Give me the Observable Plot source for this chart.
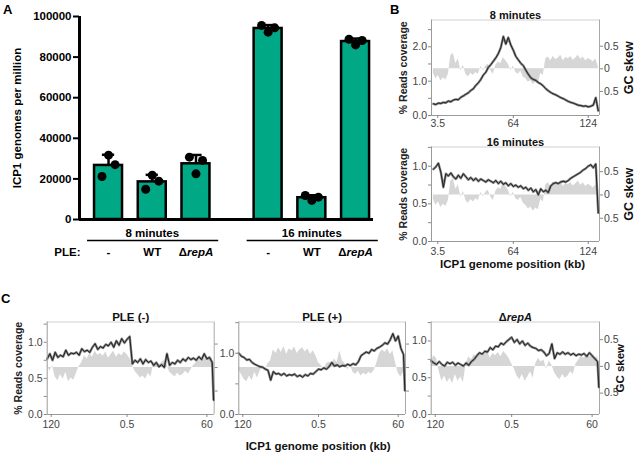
<!DOCTYPE html>
<html><head><meta charset="utf-8">
<script src="https://cdn.jsdelivr.net/npm/d3@7"></script>
<script src="https://cdn.jsdelivr.net/npm/@observablehq/plot@0.6"></script>
<style>
body{margin:0;background:#fff;}
#fig{position:relative;width:642px;height:458px;overflow:hidden;background:#fff;font-family:"Liberation Sans",Arial,Helvetica,sans-serif;}
.letter{position:absolute;font-weight:bold;font-size:13px;color:#000;line-height:1;}
</style></head><body><div id="fig"></div>
<script>
// ---------- Panel A data ----------
const groups = ["8 minutes", "16 minutes"];
const ple = ["-", "WT", "ΔrepA"];
const yTicksA = [0, 20000, 40000, 60000, 80000, 100000];
// replicate values (genomes per million), left / middle / right dot
const reps8 = [[21200, 31700, 27000], [14900, 21800, 18900], [30700, 22500, 29100]];
const reps16 = [[95600, 92300, 94400], [11800, 9400, 11000], [88800, 86000, 88200]];

// ---------- Panel B data (ICP1 genome, kb) ----------
const posB = [0,2,4,6,8,10,12,14,16,18,20,22,24,26,28,30,32,34,36,38,40,42,44,46,48,50,52,54,56,58,60,62,64,66,68,70,72,74,76,78,80,82,84,86,88,90,92,94,96,98,100,102,104,106,108,110,112,114,116,118,120,122,124,126,128,130,132];
const cov8 = [0.34,0.32,0.36,0.35,0.38,0.37,0.42,0.40,0.45,0.47,0.46,0.53,0.57,0.62,0.66,0.73,0.78,0.88,0.95,1.05,1.18,1.26,1.40,1.48,1.58,1.68,1.80,1.98,2.30,2.08,2.27,2.05,1.90,1.72,1.62,1.52,1.45,1.32,1.20,1.10,1.05,1.02,0.96,0.92,0.86,0.78,0.72,0.67,0.63,0.60,0.56,0.52,0.49,0.45,0.41,0.38,0.36,0.33,0.30,0.29,0.27,0.28,0.25,0.27,0.30,0.52,0.14];
const cov16 = [0.96,0.99,1.04,0.92,0.72,0.90,0.87,0.91,0.86,0.83,0.88,0.84,0.90,0.86,0.82,0.85,0.81,0.84,0.80,0.83,0.81,0.79,0.82,0.80,0.78,0.81,0.77,0.80,0.76,0.78,0.74,0.77,0.73,0.75,0.72,0.74,0.70,0.72,0.68,0.71,0.66,0.69,0.62,0.70,0.66,0.68,0.65,0.74,0.77,0.78,0.77,0.79,0.80,0.79,0.81,0.84,0.86,0.88,0.90,0.92,0.95,0.97,1.00,1.02,0.98,1.03,0.38];
const gcB = [-0.10,-0.22,-0.15,-0.27,-0.20,-0.25,-0.12,0.30,0.34,0.12,0.22,-0.05,0.08,-0.12,-0.18,-0.10,-0.15,-0.08,-0.12,0.05,-0.04,0.06,0.10,-0.05,-0.12,0.08,0.15,0.12,0.25,0.18,0.10,-0.04,0.06,-0.08,-0.12,-0.05,-0.18,-0.22,-0.30,-0.26,-0.35,-0.28,-0.32,-0.10,-0.15,0.22,0.26,0.18,0.28,0.20,0.24,0.30,0.18,0.25,0.22,0.27,0.19,0.24,0.30,0.21,0.26,0.18,0.23,0.20,0.15,0.22,0.05];
const xTicksB = [3.5, 64, 124];
const xLabelsB = ["3.5", "64", "124"];

// ---------- Panel C data (offset from origin, kb) ----------
const posC = [-60,-58,-56,-54,-52,-50,-48,-46,-44,-42,-40,-38,-36,-34,-32,-30,-28,-26,-24,-22,-20,-18,-16,-14,-12,-10,-8,-6,-4,-2,0,2,4,6,8,10,12,14,16,18,20,22,24,26,28,30,32,34,36,38,40,42,44,46,48,50,52,54,56,58,60,62,64,65];
const covC1 = [0.77,0.84,0.75,0.86,0.79,0.82,0.80,0.89,0.82,0.85,0.84,0.86,0.82,0.91,0.87,0.89,0.86,0.93,0.98,0.90,0.94,0.92,0.97,0.95,1.00,0.93,1.02,0.96,1.05,0.99,1.04,1.08,0.70,0.75,0.72,0.77,0.70,0.76,0.72,0.74,0.68,0.72,0.66,0.69,0.65,0.84,0.68,0.72,0.70,0.75,0.72,0.77,0.74,0.79,0.76,0.78,0.75,0.80,0.76,0.84,0.77,0.79,0.72,0.20];
const gcC1 = [0.05,-0.08,0.04,-0.20,-0.28,-0.15,-0.25,-0.10,-0.30,-0.22,-0.27,-0.12,0.03,0.10,0.25,0.18,0.30,0.22,0.35,0.26,0.30,0.24,0.33,0.20,0.28,0.35,0.22,0.30,0.25,0.33,0.28,0.20,0.05,-0.08,-0.15,-0.22,-0.18,-0.25,-0.12,-0.20,0.08,0.12,0.05,0.10,0.15,0.06,-0.10,-0.15,-0.20,-0.12,-0.18,-0.15,-0.08,-0.14,-0.05,0.05,0.10,0.16,0.12,0.20,0.15,0.22,0.18,0.10];
const covC2 = [1.00,0.95,0.93,0.89,0.90,0.85,0.82,0.80,0.78,0.77,0.74,0.72,0.56,0.70,0.66,0.67,0.64,0.67,0.63,0.65,0.64,0.66,0.62,0.64,0.61,0.65,0.63,0.67,0.66,0.70,0.74,0.73,0.76,0.74,0.78,0.85,0.79,0.81,0.78,0.80,0.79,0.82,0.80,0.83,0.81,0.86,0.96,0.99,1.02,1.00,1.06,1.04,1.08,1.10,1.13,1.17,1.15,1.22,1.32,1.20,1.28,1.08,0.98,0.39];
const gcC2 = [-0.05,-0.15,-0.25,-0.30,-0.18,-0.28,-0.10,-0.22,-0.08,0.05,-0.05,0.08,0.15,0.38,0.30,0.42,0.32,0.45,0.28,0.40,0.35,0.44,0.30,0.38,0.42,0.33,0.40,0.28,0.36,0.25,0.10,0.05,-0.05,0.08,0.12,0.05,0.18,0.10,0.35,0.15,0.08,-0.05,0.05,-0.10,-0.15,-0.08,-0.18,-0.12,-0.16,-0.10,-0.14,-0.06,0.10,0.30,0.38,0.32,0.40,0.28,0.35,0.10,-0.12,-0.20,-0.10,0.00];
const covC3 = [0.73,0.70,0.68,0.72,0.68,0.66,0.71,0.69,0.71,0.67,0.70,0.68,0.66,0.70,0.67,0.72,0.75,0.80,0.84,0.82,0.86,0.85,0.91,0.88,0.93,0.92,0.97,0.95,0.99,1.02,1.05,0.98,1.02,0.96,1.00,0.94,0.97,0.93,0.91,0.90,0.87,0.88,0.85,0.80,0.83,0.96,0.76,0.84,0.82,0.85,0.82,0.84,0.81,0.83,0.80,0.82,0.81,0.83,0.79,0.84,0.80,0.76,0.72,0.37];
const gcC3 = [0.10,0.20,0.15,-0.10,-0.28,-0.18,-0.30,-0.22,-0.32,-0.15,-0.28,-0.20,-0.30,0.05,0.18,0.12,0.22,0.16,0.25,0.18,0.22,0.28,0.15,0.24,0.20,0.26,0.18,0.28,0.22,0.15,0.05,-0.05,-0.18,-0.25,-0.15,-0.28,-0.20,-0.10,-0.22,0.05,0.15,0.08,0.12,-0.05,0.10,0.02,-0.12,-0.20,-0.25,-0.15,-0.22,-0.18,-0.10,-0.15,0.05,0.12,0.20,0.15,0.22,0.18,0.20,0.14,0.18,0.05];
const xTicksC = [-57, 0, 60];
const xLabelsC = ["120", "0.5", "60"];
const gcTicks = [-0.5, 0, 0.5];

// ---------- rendering ----------
const FONT = '"Liberation Sans", Arial, Helvetica, sans-serif';
const TEAL = "#00a886";
const fig = document.getElementById("fig");
function place(svg, left, top) {
  svg.style.position = "absolute";
  svg.style.left = left + "px";
  svg.style.top = top + "px";
  fig.appendChild(svg);
}
function letter(t, x, y) {
  const d = document.createElement("div");
  d.className = "letter"; d.textContent = t;
  d.style.left = x + "px"; d.style.top = y + "px";
  fig.appendChild(d);
}

// Panel A
const GROUP_STEP = 3.65, HALF = 0.32, CAP = 0.14, JIT = [-0.15, 0, 0.15];
const repsAll = [reps8, reps16];
const bars = [];
groups.forEach((g, gi) => ple.forEach((p, pi) => {
  const vals = repsAll[gi][pi];
  bars.push({g, p, c: gi * GROUP_STEP + pi, mean: d3.mean(vals), sd: d3.deviation(vals), vals});
}));
const dots = bars.flatMap(b => b.vals.map((v, k) => ({x: b.c + JIT[k], v})));
const groupRows = groups.map((g, gi) => ({g, c: gi * GROUP_STEP + 1}));
const xA = [-0.664, 6.06];
const plotA = Plot.plot({
  width: 390, height: 265, marginLeft: 79, marginRight: 17, marginTop: 16, marginBottom: 46,
  x: {domain: xA, axis: null},
  y: {domain: [0, 100000], axis: null},
  style: {background: "transparent", overflow: "visible", fontFamily: FONT, fontSize: "11.5px", fontWeight: "bold", color: "#000"},
  marks: [
    Plot.rectY(bars, {x1: b => b.c - HALF, x2: b => b.c + HALF, y: "mean", fill: TEAL, stroke: "#000", strokeWidth: 2.5}),
    Plot.ruleX(bars, {x: "c", y1: "mean", y2: b => b.mean + b.sd, stroke: "#000", strokeWidth: 2.5}),
    Plot.ruleY(bars, {x1: b => b.c - CAP, x2: b => b.c + CAP, y: b => b.mean + b.sd, stroke: "#000", strokeWidth: 2.5}),
    Plot.dot(dots, {x: "x", y: "v", r: 4.5, fill: "#000"}),
    Plot.ruleX([xA[0]], {stroke: "#000", strokeWidth: 3}),
    Plot.ruleY([0], {stroke: "#000", strokeWidth: 3}),
    Plot.axisY({anchor: "left", ticks: yTicksA, label: null, tickSize: 6, tickPadding: 2, strokeWidth: 2, tickFormat: d => String(d), stroke: "#000", fill: "#000"}),
    Plot.text(groupRows, {x: "c", y: 0, text: "g", dy: 17.5, lineAnchor: "bottom", fontWeight: "bold", fontSize: 11.5}),
    Plot.ruleY(groupRows, {x1: d => d.c - 1.48, x2: d => d.c + 1.52, y: 0, dy: 21, stroke: "#000", strokeWidth: 1.5}),
    Plot.text(bars, {x: "c", y: 0, text: "p", dy: 36.5, lineAnchor: "bottom", fontWeight: "bold", fontSize: 11.5}),
    Plot.text(["PLE:"], {frameAnchor: "bottom-left", text: d => d, dx: 1, dy: 36.5, textAnchor: "end", lineAnchor: "bottom", fontWeight: "bold", fontSize: 11.5}),
    Plot.text(["ICP1 genomes per million"], {frameAnchor: "left", text: d => d, dx: -62, rotate: -90, textAnchor: "middle", fontWeight: "bold", fontSize: 11.5})
  ]
});
place(plotA, 0, 0);

const fmtSkew = d => d === 0 ? "0" : Math.abs(d).toFixed(1);
function track(o) {
  const rows = o.pos.map((p, i) => ({p, c: o.cov[i], g: o.gc[i]}));
  const common = {
    width: o.w, height: o.h, marginLeft: o.mL, marginRight: o.mR, marginTop: o.mT, marginBottom: o.mB,
    style: {background: "transparent", overflow: "visible", fontFamily: FONT, fontSize: "10.5px", color: "#333"},
    x: {domain: o.xDomain, axis: null}
  };
  const gcMarks = [
    Plot.areaY(rows, {x: "p", y: "g", fill: "#d6d6d6", curve: "linear"}),
    Plot.ruleX([o.xDomain[1]], {stroke: "#a8a8a8"}),
    Plot.axisY({anchor: "right", ticks: gcTicks, label: null, tickSize: 3, tickPadding: 1.5, tickFormat: o.gcLabels ? fmtSkew : () => "", stroke: "#888", fill: "#444"})
  ];
  if (o.gcTitle) gcMarks.push(Plot.text([o.gcTitle], {frameAnchor: "right", text: d => d, dx: o.gcTitleDx, rotate: -90, textAnchor: "middle", fontWeight: "bold", fontSize: o.gcTitleSize, fill: "#111"}));
  const gcPlot = Plot.plot({...common, y: {domain: o.gcDomain, axis: null}, marks: gcMarks});
  const covMarks = [
    Plot.ruleY([o.covDomain[1]], {stroke: "#d0d0d0"}),
    Plot.lineY(rows, {x: "p", y: "c", stroke: "#6e6e6e", strokeWidth: 2.4, strokeOpacity: 0.85}),
    Plot.lineY(rows, {x: "p", y: "c", stroke: "#151515", strokeWidth: 0.9}),
    Plot.ruleX([o.xDomain[0]], {stroke: "#9a9a9a"}),
    Plot.ruleY([0], {stroke: "#9a9a9a"}),
    Plot.axisY({anchor: "left", ticks: o.covTicks, label: null, tickSize: 3, tickPadding: 1.5, tickFormat: d => o.covLabeled.includes(d) ? d.toFixed(1) : "", stroke: "#888", fill: "#444"}),
    Plot.axisX({anchor: "bottom", ticks: o.xTicks, label: null, tickSize: 3, tickPadding: o.xPad, tickFormat: d => o.xLabels[o.xTicks.indexOf(d)], stroke: "#888", fill: "#444"}),
    Plot.text([o.title], {frameAnchor: "top", text: d => d, dy: -1.5, lineAnchor: "bottom", fontWeight: "bold", fontSize: o.titleSize, fill: "#111"})
  ];
  if (o.yTitle) covMarks.push(Plot.text([o.yTitle], {frameAnchor: "left", text: d => d, dx: o.yTitleDx, rotate: -90, textAnchor: "middle", fontWeight: "bold", fontSize: 10.5, fill: "#222"}));
  if (o.xTitle) covMarks.push(Plot.text([o.xTitle], {frameAnchor: "bottom", text: d => d, dx: o.xTitleDx || 0, dy: o.xTitleDy, lineAnchor: "bottom", fontWeight: "bold", fontSize: 11.5, fill: "#111"}));
  const covPlot = Plot.plot({...common, y: {domain: o.covDomain, axis: null}, marks: covMarks});
  place(gcPlot, o.left, o.top);
  place(covPlot, o.left, o.top);
}

const xDomB = [-1.5, 133], xDomC = [-60, 65.5];
track({left: 380, top: 0, w: 262, h: 132, mL: 51, mR: 43, mT: 19.5, mB: 17,
  pos: posB, cov: cov8, gc: gcB, xDomain: xDomB, xTicks: xTicksB, xLabels: xLabelsB, xPad: 1,
  covDomain: [0, 2.78], covTicks: [0, 0.5, 1, 1.5, 2, 2.5], covLabeled: [0, 1, 2],
  gcDomain: [-1.033, 1.08], gcLabels: true, gcTitle: "GC skew", gcTitleDx: 29, gcTitleSize: 12.5,
  title: "8 minutes", titleSize: 11, yTitle: "% Reads coverage", yTitleDx: -28});
track({left: 380, top: 130, w: 262, h: 145, mL: 51, mR: 43, mT: 16.5, mB: 34,
  pos: posB, cov: cov16, gc: gcB, xDomain: xDomB, xTicks: xTicksB, xLabels: xLabelsB, xPad: 3.5,
  covDomain: [0, 1.255], covTicks: [0, 0.25, 0.5, 0.75, 1, 1.25], covLabeled: [0, 0.5, 1],
  gcDomain: [-1.0, 1.03], gcLabels: true, gcTitle: "GC skew", gcTitleDx: 29, gcTitleSize: 12.5,
  title: "16 minutes", titleSize: 11, yTitle: "% Reads coverage", yTitleDx: -28,
  xTitle: "ICP1 genome position (kb)", xTitleDy: 26.5, xTitleDx: -3});
track({left: 0, top: 290, w: 225, h: 168, mL: 46.7, mR: 11.3, mT: 31.5, mB: 44,
  pos: posC, cov: covC1, gc: gcC1, xDomain: xDomC, xTicks: xTicksC, xLabels: xLabelsC, xPad: 3.5,
  covDomain: [0, 1.28], covTicks: [0, 0.25, 0.5, 0.75, 1, 1.25], covLabeled: [0, 0.5, 1],
  gcDomain: [-1.0, 0.97], gcLabels: false,
  title: "PLE (-)", titleSize: 11.5, yTitle: "% Reads coverage", yTitleDx: -28.7});
track({left: 200, top: 290, w: 220, h: 168, mL: 38.3, mR: 15, mT: 31.5, mB: 44,
  pos: posC, cov: covC2, gc: gcC2, xDomain: xDomC, xTicks: xTicksC, xLabels: xLabelsC, xPad: 3.5,
  covDomain: [0, 1.51], covTicks: [0, 0.5, 1, 1.5], covLabeled: [0, 1],
  gcDomain: [-1.0, 0.97], gcLabels: false,
  title: "PLE (+)", titleSize: 11.5,
  xTitle: "ICP1 genome position (kb)", xTitleDy: 35, xTitleDx: -4});
track({left: 410, top: 290, w: 232, h: 168, mL: 20.7, mR: 43, mT: 31.5, mB: 44,
  pos: posC, cov: covC3, gc: gcC3, xDomain: xDomC, xTicks: xTicksC, xLabels: xLabelsC, xPad: 3.5,
  covDomain: [0, 1.258], covTicks: [0, 0.25, 0.5, 0.75, 1, 1.25], covLabeled: [0, 0.5, 1],
  gcDomain: [-0.9, 0.83], gcLabels: true, gcTitle: "GC skew", gcTitleDx: 21, gcTitleSize: 11.5,
  title: "ΔrepA", titleSize: 11});

// italic "repA"
fig.querySelectorAll("text").forEach(t => {
  if (t.textContent === "ΔrepA") {
    const ns = "http://www.w3.org/2000/svg";
    const holder = t.querySelector("tspan") || t;
    holder.textContent = "Δ";
    const ts = document.createElementNS(ns, "tspan");
    ts.setAttribute("font-style", "italic");
    ts.textContent = "repA";
    holder.appendChild(ts);
  }
});

letter("A", 3, 3);
letter("B", 390, 3);
letter("C", 1, 292);
</script></body></html>
